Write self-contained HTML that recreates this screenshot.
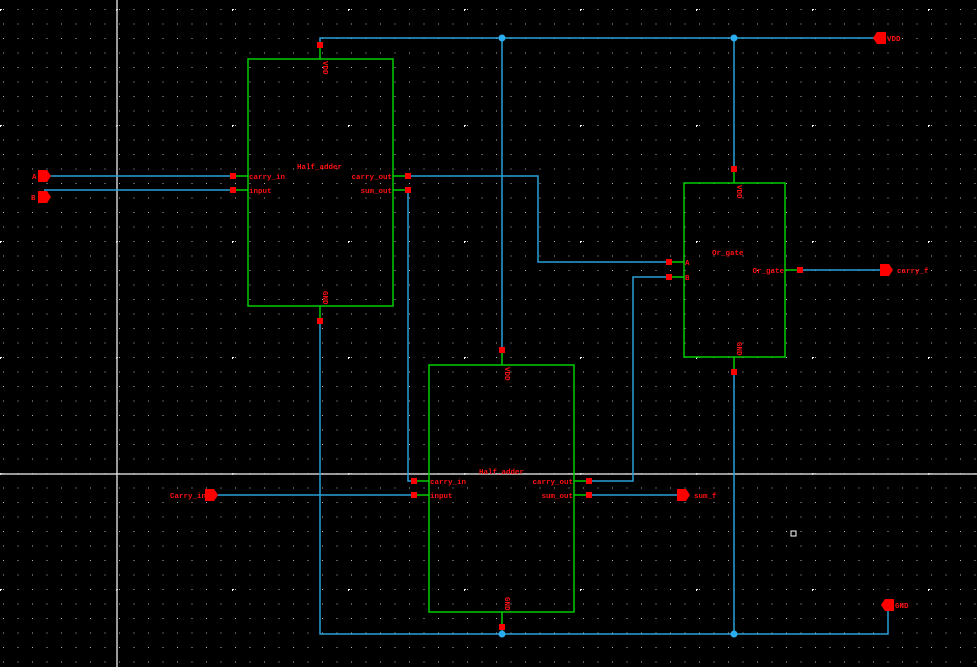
<!DOCTYPE html>
<html><head><style>html,body{margin:0;padding:0;background:#000;overflow:hidden}</style></head><body>
<svg width="977" height="667" xmlns="http://www.w3.org/2000/svg" style="display:block;font-family:'Liberation Mono',monospace;font-size:7.5px;font-weight:bold">
<defs>
<pattern id="g" x="0" y="0" width="14.5" height="14.5" patternUnits="userSpaceOnUse" patternTransform="translate(3,9)">
<rect x="0" y="0" width="1" height="1" fill="#b0b0b0"/>
</pattern>
<pattern id="G" x="0" y="0" width="116" height="116" patternUnits="userSpaceOnUse" patternTransform="translate(116,9)">
<rect x="0" y="-1" width="1" height="3" fill="#fff"/><rect x="-1" y="0" width="3" height="1" fill="#fff"/>
</pattern>
</defs>
<rect width="977" height="667" fill="#000"/>
<rect width="977" height="667" fill="url(#g)"/>
<rect width="977" height="667" fill="url(#G)"/>
<line x1="117" y1="0" x2="117" y2="667" stroke="#ccc" stroke-width="1.5"/>
<line x1="0" y1="474" x2="977" y2="474" stroke="#ccc" stroke-width="1.5"/>

<g stroke="#2a9fd8" stroke-width="1.5" fill="none">
<polyline points="320,45 320,38 880,38"/>
<line x1="502" y1="38" x2="502" y2="350"/>
<line x1="734" y1="38" x2="734" y2="169"/>
<polyline points="320,321 320,634 888,634 888,605"/>
<line x1="502" y1="627" x2="502" y2="634"/>
<line x1="734" y1="372" x2="734" y2="634"/>
<line x1="44" y1="176" x2="233" y2="176"/>
<line x1="44" y1="190" x2="233" y2="190"/>
<polyline points="408,176 538,176 538,262 669,262"/>
<polyline points="408,190 408,481 414,481"/>
<line x1="210" y1="495" x2="414" y2="495"/>
<polyline points="589,481 633,481 633,277 669,277"/>
<line x1="589" y1="495" x2="680" y2="495"/>
<line x1="800" y1="270" x2="884" y2="270"/>
</g>
<g fill="#2aaef0"><circle cx="502" cy="38" r="3.5"/><circle cx="734" cy="38" r="3.5"/><circle cx="502" cy="634" r="3.5"/><circle cx="734" cy="634" r="3.5"/></g>

<g stroke="#00cc00" stroke-width="1.5" fill="none">
<rect x="248" y="59" width="145" height="247"/>
<rect x="429" y="365" width="145" height="247"/>
<rect x="684" y="183" width="101" height="174"/>
<line x1="233" y1="176" x2="248" y2="176"/><line x1="233" y1="190" x2="248" y2="190"/>
<line x1="393" y1="176" x2="408" y2="176"/><line x1="393" y1="190" x2="408" y2="190"/>
<line x1="320" y1="45" x2="320" y2="59"/><line x1="320" y1="306" x2="320" y2="321"/>
<line x1="414" y1="481" x2="429" y2="481"/><line x1="414" y1="495" x2="429" y2="495"/>
<line x1="574" y1="481" x2="589" y2="481"/><line x1="574" y1="495" x2="589" y2="495"/>
<line x1="502" y1="350" x2="502" y2="365"/><line x1="502" y1="612" x2="502" y2="627"/>
<line x1="669" y1="262" x2="684" y2="262"/><line x1="669" y1="277" x2="684" y2="277"/>
<line x1="785" y1="270" x2="800" y2="270"/>
<line x1="734" y1="169" x2="734" y2="183"/><line x1="734" y1="357" x2="734" y2="372"/>
</g>

<g fill="#ff0000">
<rect x="230" y="173" width="6" height="6"/><rect x="230" y="187" width="6" height="6"/>
<rect x="405" y="173" width="6" height="6"/><rect x="405" y="187" width="6" height="6"/>
<rect x="317" y="42" width="6" height="6"/><rect x="317" y="318" width="6" height="6"/>
<rect x="411" y="478" width="6" height="6"/><rect x="411" y="492" width="6" height="6"/>
<rect x="586" y="478" width="6" height="6"/><rect x="586" y="492" width="6" height="6"/>
<rect x="499" y="347" width="6" height="6"/><rect x="499" y="624" width="6" height="6"/>
<rect x="666" y="259" width="6" height="6"/><rect x="666" y="274" width="6" height="6"/>
<rect x="797" y="267" width="6" height="6"/>
<rect x="731" y="166" width="6" height="6"/><rect x="731" y="369" width="6" height="6"/>
<path d="M38,170 h9 l4,6 l-4,6 h-9z"/>
<path d="M38,191 h9 l4,6 l-4,6 h-9z"/>
<path d="M205,489 h9 l4,6 l-4,6 h-9z"/>
<path d="M677,489 h9 l4,6 l-4,6 h-9z"/>
<path d="M880,264 h9 l4,6 l-4,6 h-9z"/>
<path d="M886,32 h-9 l-4,6 l4,6 h9z"/>
<path d="M894,599 h-9 l-4,6 l4,6 h9z"/>
</g>

<g fill="#ff1010">
<text x="32" y="179">A</text><text x="31" y="200">B</text>
<text x="170" y="498">Carry_in</text>
<text x="694" y="498">sum_f</text>
<text x="897" y="273">carry_f</text>
<text x="887" y="41">VDD</text>
<text x="895" y="608">GND</text>
<text x="297" y="169">Half_adder</text>
<text x="249" y="179">carry_in</text><text x="249" y="193">input</text>
<text x="392" y="179" text-anchor="end">carry_out</text><text x="392" y="193" text-anchor="end">sum_out</text>
<text x="479" y="474">Half_adder</text>
<text x="430" y="484">carry_in</text><text x="430" y="498">input</text>
<text x="573" y="484" text-anchor="end">carry_out</text><text x="573" y="498" text-anchor="end">sum_out</text>
<text x="712" y="255">Or_gate</text>
<text x="784" y="273" text-anchor="end">Or_gate</text>
<text x="685" y="265">A</text><text x="685" y="280">B</text>
<text transform="translate(323,61) rotate(90)">VDD</text>
<text transform="translate(323,291) rotate(90)">GND</text>
<text transform="translate(505,367) rotate(90)">VDD</text>
<text transform="translate(505,597) rotate(90)">GND</text>
<text transform="translate(737,185) rotate(90)">VDD</text>
<text transform="translate(737,342) rotate(90)">GND</text>
</g>
<rect x="791" y="531" width="5" height="5" fill="none" stroke="#fff" stroke-width="1"/>
</svg>
</body></html>
